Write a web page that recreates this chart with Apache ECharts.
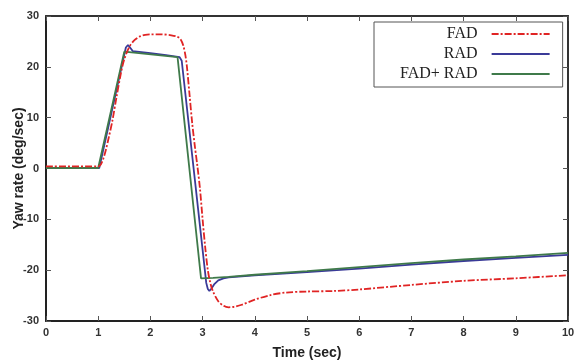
<!DOCTYPE html>
<html>
<head>
<meta charset="utf-8">
<script src="https://cdn.jsdelivr.net/npm/echarts@6/dist/echarts.min.js"></script>
<style>html,body{margin:0;padding:0;background:#fff;}#c{width:574px;height:360px;}</style>
</head>
<body>
<div id="c"></div>
<script>
var seriesNames = ['FAD', 'RAD', 'FAD+ RAD'];
var xTicks = [0,1,2,3,4,5,6,7,8,9,10];
var yTicks = [-30,-20,-10,0,10,20,30];

var fadData = [[0,0.4],[1.0,0.4],[1.05,0.8],[1.1,2],[1.15,3.8],[1.2,6],[1.27,9.3],[1.35,14],[1.44,19],[1.5,21.5],[1.6,24],[1.7,25.3],[1.8,26],[1.9,26.3],[2.0,26.4],[2.2,26.4],[2.4,26.2],[2.52,25.9],[2.58,25.4],[2.63,24.2],[2.67,22.3],[2.7,20],[2.75,14.5],[2.8,9],[2.85,4.5],[2.9,0.5],[2.95,-4],[3.0,-10],[3.05,-15.5],[3.1,-20],[3.15,-22.6],[3.2,-24.2],[3.3,-26.1],[3.4,-27.0],[3.5,-27.3],[3.6,-27.2],[3.75,-26.8],[4.0,-25.8],[4.3,-24.9],[4.6,-24.4],[5.0,-24.2],[5.5,-24.1],[6.0,-23.8],[7.0,-22.9],[8.0,-22.1],[9.0,-21.6],[10.0,-21.0]];

var radData = [[0,0.1],[1.02,0.1],[1.53,23.8],[1.57,24.3],[1.61,23.8],[1.66,23.1],[2.0,22.7],[2.3,22.3],[2.56,21.9],[2.6,21.2],[3.07,-22.5],[3.1,-23.7],[3.13,-24.1],[3.17,-23.6],[3.22,-22.8],[3.3,-22.0],[3.4,-21.6],[3.5,-21.4],[4.0,-21.0],[5.0,-20.4],[6.0,-19.7],[7.0,-18.9],[8.0,-18.2],[9.0,-17.6],[10.0,-17.0]];

var bothData = [[0,0.1],[1.0,0.1],[1.5,23.0],[2.52,21.9],[2.97,-21.6],[3.2,-21.5],[3.5,-21.3],[4.0,-20.9],[5.0,-20.2],[6.0,-19.4],[7.0,-18.6],[8.0,-17.9],[9.0,-17.3],[10.0,-16.6]];

var chart = echarts.init(document.getElementById('c'), null, {renderer:'canvas'});
var labelStyle = {fontFamily:'Liberation Sans, Arial, sans-serif', fontWeight:'bold', fontSize:11, color:'#333'};
var option = {
  backgroundColor:'#fff',
  animation:false,
  grid:{left:46, right:6, top:16, bottom:39, containLabel:false, outerBoundsMode:'none'},
  legend:{
    data:seriesNames,
    orient:'vertical',
    left:374, top:22,
    align:'right',
    itemWidth:58, itemHeight:14, itemGap:4,
    padding:[4,12,5,26],
    backgroundColor:'#fff',
    borderColor:'#555', borderWidth:1,
    itemStyle:{opacity:0, color:'rgba(0,0,0,0)', borderWidth:0},
    textStyle:{fontFamily:'Liberation Serif, Times New Roman, serif', fontSize:16, color:'#222', width:118, align:'right', padding:[0,9,0,0]}
  },
  xAxis:[{
    type:'value', min:0, max:10, interval:1, position:'bottom',
    name:'Time (sec)', nameLocation:'middle', nameGap:25,
    nameTextStyle:{fontFamily:'Liberation Sans, Arial, sans-serif', fontWeight:'bold', fontSize:14, color:'#222'},
    axisLine:{show:true, onZero:false, lineStyle:{color:'#222', width:2}},
    axisTick:{show:true, inside:true, length:5, lineStyle:{color:'#555'}},
    axisLabel:Object.assign({margin:6, formatter:function(v){return xTicks.indexOf(v)>=0?String(v):'';}}, labelStyle),
    splitLine:{show:false}
  },{
    type:'value', min:0, max:10, interval:1, position:'top',
    axisLine:{show:true, onZero:false, lineStyle:{color:'#333', width:2}},
    axisTick:{show:true, inside:true, length:5, lineStyle:{color:'#555'}},
    axisLabel:{show:false}, splitLine:{show:false}
  }],
  yAxis:[{
    type:'value', min:-30, max:30, interval:10, position:'left',
    name:'Yaw rate (deg/sec)', nameLocation:'middle', nameGap:20, nameRotate:90, nameMoveOverlap:false,
    nameTextStyle:{fontFamily:'Liberation Sans, Arial, sans-serif', fontWeight:'bold', fontSize:14, color:'#222'},
    axisLine:{show:true, onZero:false, lineStyle:{color:'#222', width:2}},
    axisTick:{show:true, inside:true, length:5, lineStyle:{color:'#555'}},
    axisLabel:Object.assign({margin:7, formatter:function(v){return yTicks.indexOf(v)>=0?String(v):'';}}, labelStyle),
    splitLine:{show:false}
  },{
    type:'value', min:-30, max:30, interval:10, position:'right',
    axisLine:{show:true, onZero:false, lineStyle:{color:'#333', width:2}},
    axisTick:{show:true, inside:true, length:5, lineStyle:{color:'#555'}},
    axisLabel:{show:false}, splitLine:{show:false}
  }],
  series:[
    {name:seriesNames[0], type:'line', data:fadData, symbol:'none', smooth:0.3, z:3,
     lineStyle:{color:'#e02424', width:1.8, type:[7,2,2,2]}, itemStyle:{color:'#e02424'}},
    {name:seriesNames[1], type:'line', data:radData, symbol:'none', smooth:false, z:2,
     lineStyle:{color:'#3a3a98', width:1.8}, itemStyle:{color:'#3a3a98'}},
    {name:seriesNames[2], type:'line', data:bothData, symbol:'none', smooth:false, z:2,
     lineStyle:{color:'#3f7a4a', width:1.8}, itemStyle:{color:'#3f7a4a'}}
  ]
};
chart.setOption(option);
</script>
</body>
</html>
